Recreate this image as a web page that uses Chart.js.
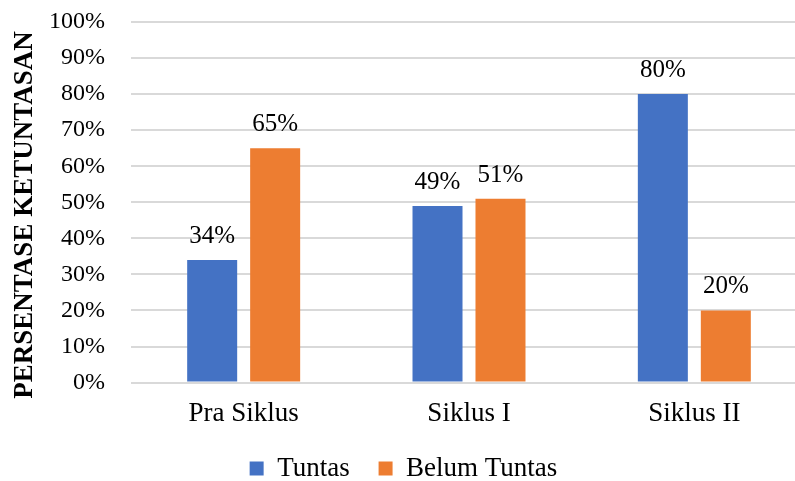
<!DOCTYPE html>
<html>
<head>
<meta charset="utf-8">
<script src="https://cdn.jsdelivr.net/npm/chart.js@4.4.1/dist/chart.umd.min.js"></script>
<style>
  html, body { margin: 0; padding: 0; background: #fff; overflow: hidden; }
  canvas { display: block; }
</style>
</head>
<body>
<canvas id="grafica" width="812" height="481"></canvas>
<script>
// datos de la grafica
const categorias = ['Pra Siklus', 'Siklus I', 'Siklus II'];
const tuntas = [34, 49, 80];
const belumTuntas = [65, 51, 20];
const nombresSeries = ['Tuntas', 'Belum Tuntas'];
const tituloEje = 'PERSENTASE KETUNTASAN';

const fuente = "'Liberation Serif', 'Times New Roman', serif";

/* etiquetas de porcentaje encima de cada barra */
const etiquetasBarras = {
  id: 'etiquetasBarras',
  afterDatasetsDraw(chart) {
    const ctx = chart.ctx;
    ctx.save();
    ctx.font = '25px ' + fuente;
    ctx.fillStyle = '#000';
    ctx.textAlign = 'center';
    ctx.textBaseline = 'alphabetic';
    chart.data.datasets.forEach((ds, i) => {
      chart.getDatasetMeta(i).data.forEach((bar, j) => {
        ctx.fillText(ds.data[j] + '%', bar.x, bar.y - 17);
      });
    });
    ctx.restore();
  }
};

/* titulo del eje Y */
const tituloY = {
  id: 'tituloY',
  afterDraw(chart) {
    const ctx = chart.ctx;
    ctx.save();
    ctx.translate(25, 215);
    ctx.rotate(-Math.PI / 2);
    ctx.font = 'bold 27px ' + fuente;
    ctx.fillStyle = '#000';
    ctx.textAlign = 'center';
    ctx.textBaseline = 'middle';
    ctx.fillText(tituloEje, 0, 0);
    ctx.restore();
  }
};

const ctx = document.getElementById('grafica').getContext('2d');

let chart = new Chart(ctx, {
  type: 'bar',
  data: {
    labels: categorias,
    datasets: [
      { label: nombresSeries[0], data: tuntas, backgroundColor: '#4472C4' },
      { label: nombresSeries[1], data: belumTuntas, backgroundColor: '#ED7D31' }
    ]
  },
  options: {
    responsive: false,
    animation: false,
    categoryPercentage: 0.559,
    barPercentage: 0.794,
    layout: { padding: { top: 22, right: 5, left: 0, bottom: -11 } },
    plugins: {
      legend: {
        position: 'bottom',
        labels: {
          boxWidth: 14,
          boxHeight: 14,
          padding: 10,
          color: '#000',
          font: { family: fuente, size: 27 },
          // un poco mas de espacio entre las dos series
          generateLabels(chart) {
            const items = Chart.defaults.plugins.legend.labels.generateLabels(chart);
            items.forEach((it, i) => { if (i < items.length - 1) it.text += '\u2002\u2009'; });
            return items;
          }
        }
      },
      tooltip: { enabled: false }
    },
    scales: {
      x: {
        grid: { display: false, drawTicks: false },
        border: { display: false },
        ticks: {
          color: '#000',
          padding: 15,
          font: { family: fuente, size: 27 }
        }
      },
      y: {
        min: 0,
        max: 100,
        afterFit(scale) { scale.width = 131; },
        // la separacion de las etiquetas se hace con tickLength invisible
        grid: { color: '#d9d9d9', lineWidth: 2, drawTicks: true, tickLength: 26, tickColor: 'rgba(0,0,0,0)' },
        border: { display: false },
        ticks: {
          stepSize: 10,
          autoSkip: false,
          color: '#000',
          padding: 0,
          font: { family: fuente, size: 24 },
          callback: v => v + '%'
        }
      }
    }
  },
  plugins: [etiquetasBarras, tituloY]
});
</script>
</body>
</html>
